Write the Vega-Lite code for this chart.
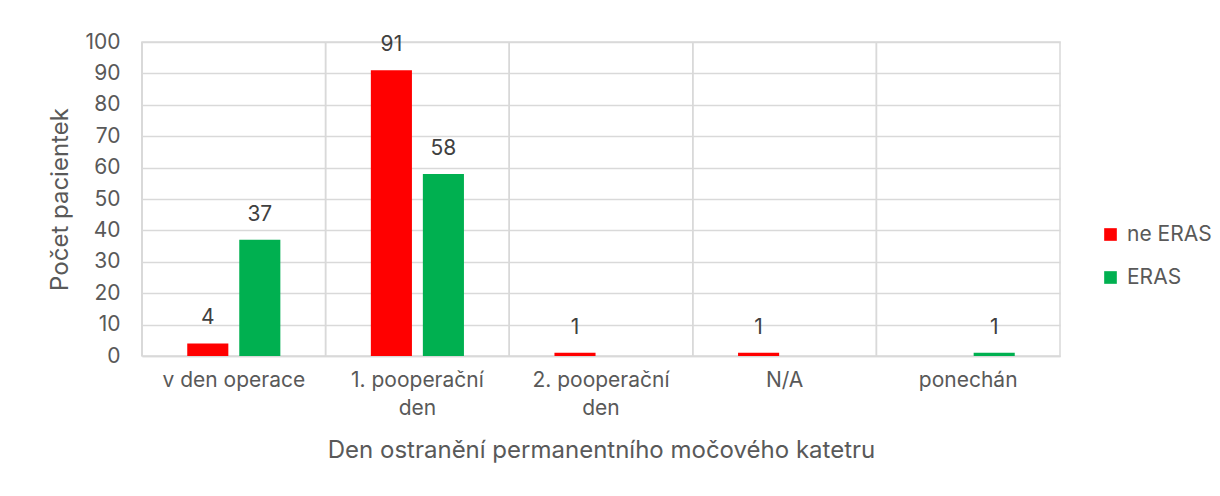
{
  "$schema": "https://vega.github.io/schema/vega-lite/v6.json",
  "width": 918,
  "height": 314,
  "autosize": {"type": "none"},
  "padding": {"left": 142, "top": 42, "right": 160, "bottom": 140},
  "background": "white",
  "config": {
    "font": "Inter",
    "view": {"stroke": "#d9d9d9", "strokeWidth": 1.5},
    "axis": {"labelColor": "#595959", "titleColor": "#595959", "titleFontWeight": "normal", "labelFont": "Inter", "titleFont": "Inter"}
  },
  "data": {
    "values": [
      {"den": "v den operace", "skupina": "ne ERAS", "pocet": 4},
      {"den": "v den operace", "skupina": "ERAS", "pocet": 37},
      {"den": "1. pooperační den", "skupina": "ne ERAS", "pocet": 91},
      {"den": "1. pooperační den", "skupina": "ERAS", "pocet": 58},
      {"den": "2. pooperační den", "skupina": "ne ERAS", "pocet": 1},
      {"den": "2. pooperační den", "skupina": "ERAS", "pocet": 0},
      {"den": "N/A", "skupina": "ne ERAS", "pocet": 1},
      {"den": "N/A", "skupina": "ERAS", "pocet": 0},
      {"den": "ponechán", "skupina": "ne ERAS", "pocet": 0},
      {"den": "ponechán", "skupina": "ERAS", "pocet": 1}
    ]
  },
  "encoding": {
    "x": {
      "field": "den",
      "type": "nominal",
      "sort": null,
      "scale": {"paddingInner": 0, "paddingOuter": 0},
      "axis": {
        "title": "Den ostranění permanentního močového katetru",
        "titleFontSize": 24,
        "titlePadding": 20,
        "labelFontSize": 21,
        "labelAngle": 0,
        "labelPadding": 13,
        "labelLineHeight": 28,
        "labelOverlap": false,
        "labelExpr": "datum.value == '1. pooperační den' ? ['1. pooperační', 'den'] : datum.value == '2. pooperační den' ? ['2. pooperační', 'den'] : datum.value",
        "ticks": false,
        "grid": false,
        "domainColor": "#d9d9d9",
        "domainWidth": 1.5
      }
    }
  },
  "layer": [
    {
      "mark": {"type": "rule", "color": "#d9d9d9", "strokeWidth": 1.5},
      "encoding": {
        "x": {"field": "den", "type": "nominal", "sort": null, "bandPosition": 0}
      }
    },
    {
      "mark": {"type": "bar"},
      "encoding": {
        "xOffset": {
          "field": "skupina",
          "type": "nominal",
          "sort": ["ne ERAS", "ERAS"],
          "scale": {"paddingInner": 0.21, "paddingOuter": 0.87}
        },
        "y": {
          "field": "pocet",
          "type": "quantitative",
          "scale": {"domain": [0, 100]},
          "axis": {
            "title": "Počet pacientek",
            "titleFontSize": 24,
            "titlePadding": 12,
            "labelFontSize": 21,
            "labelPadding": 22,
            "labelOverlap": false,
            "labelFlush": false,
            "values": [0, 10, 20, 30, 40, 50, 60, 70, 80, 90, 100],
            "ticks": false,
            "domain": false,
            "gridColor": "#d9d9d9",
            "gridWidth": 1.5
          }
        },
        "color": {
          "field": "skupina",
          "type": "nominal",
          "scale": {"domain": ["ne ERAS", "ERAS"], "range": ["#ff0000", "#00b050"]},
          "legend": {
            "title": null,
            "orient": "none",
            "legendX": 958,
            "legendY": 182,
            "symbolType": "square",
            "symbolSize": 160,
            "symbolStrokeWidth": 0,
            "labelFontSize": 21,
            "labelColor": "#595959",
            "labelFont": "Inter",
            "rowPadding": 21,
            "labelOffset": 6
          }
        }
      }
    },
    {
      "transform": [{"filter": "datum.pocet > 0"}],
      "mark": {"type": "text", "baseline": "alphabetic", "dy": -19, "fontSize": 21, "color": "#404040", "font": "Inter"},
      "encoding": {
        "xOffset": {
          "field": "skupina",
          "type": "nominal",
          "sort": ["ne ERAS", "ERAS"]
        },
        "y": {
          "field": "pocet",
          "type": "quantitative",
          "scale": {"domain": [0, 100]},
          "axis": {
            "title": "Počet pacientek",
            "titleFontSize": 24,
            "titlePadding": 12,
            "labelFontSize": 21,
            "labelPadding": 22,
            "labelOverlap": false,
            "labelFlush": false,
            "values": [0, 10, 20, 30, 40, 50, 60, 70, 80, 90, 100],
            "ticks": false,
            "domain": false,
            "gridColor": "#d9d9d9",
            "gridWidth": 1.5
          }
        },
        "text": {"field": "pocet", "type": "quantitative"}
      }
    }
  ]
}
